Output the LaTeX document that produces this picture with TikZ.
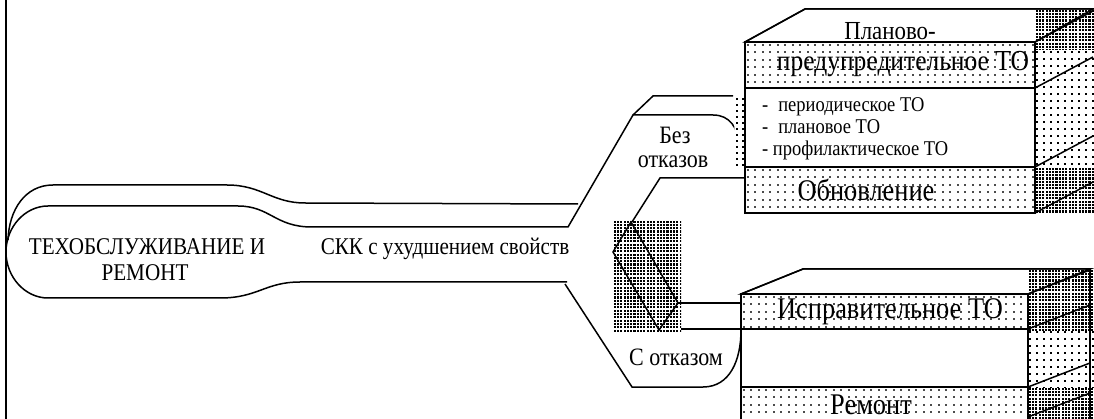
\documentclass[tikz,border=0pt]{standalone}
\usepackage{fontspec}
\setmainfont{Liberation Serif}
\newfontfamily\condserif[FakeStretch=0.88]{Liberation Serif}
\newcommand\dotfield[7]{%
  \begin{scope}
  \clip (#1,#2) rectangle (#3,#4);
  \pgfmathtruncatemacro\dfnx{(#3-#1)/#5}%
  \pgfmathtruncatemacro\dfny{(#4-#2)/#5}%
  \foreach \i in {0,...,\dfnx}{\foreach \j in {0,...,\dfny}{%
    \fill[#7] ({#1+0.6+\i*#5},{#2+0.6+\j*#5}) rectangle +(#6,#6);}}
  \end{scope}}
\newcommand\densefield[4]{\dotfield{#1}{#2}{#3}{#4}{3.3}{2.1}{black}}
\newcommand\sparsefield[4]{\dotfield{#1}{#2}{#3}{#4}{7.5}{2.1}{black!70}}
\newcommand\sidefield[4]{\dotfield{#1}{#2}{#3}{#4}{7}{2.2}{black}}
\begin{document}
\begin{tikzpicture}[x=1pt,y=-1pt,
  ln/.style={draw=black,line width=1.5pt},
  lbl/.style={inner sep=0pt,font=\condserif\fontsize{#1}{#1}\selectfont},
  lbl/.default=24]
\useasboundingbox (0,0) rectangle (1094,419);
\clip (0,0) rectangle (1094,419);
% left border
\draw[line width=2pt] (5.5,0) -- (5.5,419);
% capsule, back layer
\draw[ln] (8,240) .. controls (9,210) and (25,185) .. (53,185) -- (227,185)
  .. controls (262,185) and (272,203) .. (305,203) -- (578,204);
% capsule, front layer with upper arm
\draw[ln] (739,145) .. controls (738,128) and (730,115) .. (713,115) -- (633,115)
  -- (568,227) -- (312,227) .. controls (275,227) and (270,206) .. (238,206)
  -- (48,206) .. controls (25,206) and (6,227) .. (6,252)
  .. controls (6,277) and (25,298) .. (48,298) -- (220,298)
  .. controls (258,298) and (265,282) .. (300,282) -- (567,282);
% upper arm back edge
\draw[ln] (633,115) -- (653,96) -- (733,96);
% upper arm lower edge
\draw[ln] (632,222) -- (660,178) -- (745,178);
% lower arm
\draw[ln] (565,284) -- (632,387) -- (703,387) .. controls (730,387) and (741,360) .. (741,330);
% diamond
\densefield{613}{220}{681}{332}
\draw[ln] (631,222) -- (678,303) -- (659,330) -- (613,252) -- cycle;
\draw[ln] (678,303) -- (741,303);
\draw[ln] (681,329) -- (741,329);
% dotted strip behind upper box
\fill[white] (733,97) -- (745,97) -- (745,167) -- (736,167) -- cycle;
\dotfield{735}{97}{745}{167}{6}{2}{black}

% ===== upper box =====
\filldraw[fill=white,ln] (745,42) -- (805,9) -- (1093,9) -- (1035,42) -- cycle;
\densefield{1035}{9}{1094}{50}
\sidefield{1035}{50}{1094}{167}
\densefield{1035}{167}{1094}{213}
\draw[ln] (745,42) -- (805,9) -- (1094,9);
\filldraw[ln,fill=white] (745,42) rectangle (1035,88);
\sparsefield{746}{43}{1034}{87}
\filldraw[ln,fill=white] (745,88) rectangle (1035,167);
\filldraw[ln,fill=white] (745,167) rectangle (1035,213);
\sparsefield{746}{168}{1034}{212}
\draw[ln] (745,42) rectangle (1035,213);
\draw[ln] (745,88) -- (1035,88) (745,167) -- (1035,167);
\draw[ln] (1035,42) -- (1093,11);
\draw[ln] (1035,88) -- (1093,57);
\draw[ln] (1035,167) -- (1093,136);
\draw[ln] (1035,213) -- (1093,182);

% ===== lower box =====
\filldraw[fill=white,ln] (741,294) -- (803,269) -- (1090,269) -- (1028,294) -- cycle;
\densefield{1028}{269}{1094}{330}
\sidefield{1028}{330}{1094}{387}
\densefield{1028}{387}{1094}{419}
\draw[ln] (741,294) -- (803,269) -- (1090,269);
\filldraw[ln,fill=white] (741,294) rectangle (1028,430);
\sparsefield{742}{295}{1027}{328}
\sparsefield{742}{388}{1027}{419}
\draw[ln] (741,294) rectangle (1028,430);
\draw[ln] (741,329) -- (1028,329) (741,387) -- (1028,387);
\draw[ln] (1028,294) -- (1090,270);
\draw[ln] (1028,329) -- (1090,305);
\draw[ln] (1028,387) -- (1090,363);
\draw[ln] (1028,417) -- (1090,393);
\draw[ln] (1090,269) -- (1090,419);

% ===== texts =====
\node[lbl=24] (t1) at (147,247) {ТЕХОБСЛУЖИВАНИЕ И};
\node[lbl=24] (t2) at (145,273) {РЕМОНТ};
\node[lbl=24] (skk) at (445,249) {СКК с ухудшением свойств};
\node[lbl=25] (bez) at (675,135) {Без};
\node[lbl=25] (otk) at (673,162) {отказов};
\node[lbl=25] (sotk) at (676,357) {С отказом};
\node[lbl=26] (pl1) at (890,31) {Планово-};
\node[lbl=29] (pl2) at (903,64) {предупредительное ТО};
\node[lbl=21,anchor=base west] (i1) at (762,112) {-\hspace{10pt}периодическое ТО};
\node[lbl=21,anchor=base west] (i2) at (762,134) {-\hspace{10pt}плановое ТО};
\node[lbl=21,anchor=base west] (i3) at (762,156) {- профилактическое ТО};
\node[lbl=30] (obn) at (866,190) {Обновление};
\node[lbl=30] (isp) at (890,312) {Исправительное ТО};
\node[lbl=30] (rem) at (871,405) {Ремонт};
\end{tikzpicture}
\end{document}
